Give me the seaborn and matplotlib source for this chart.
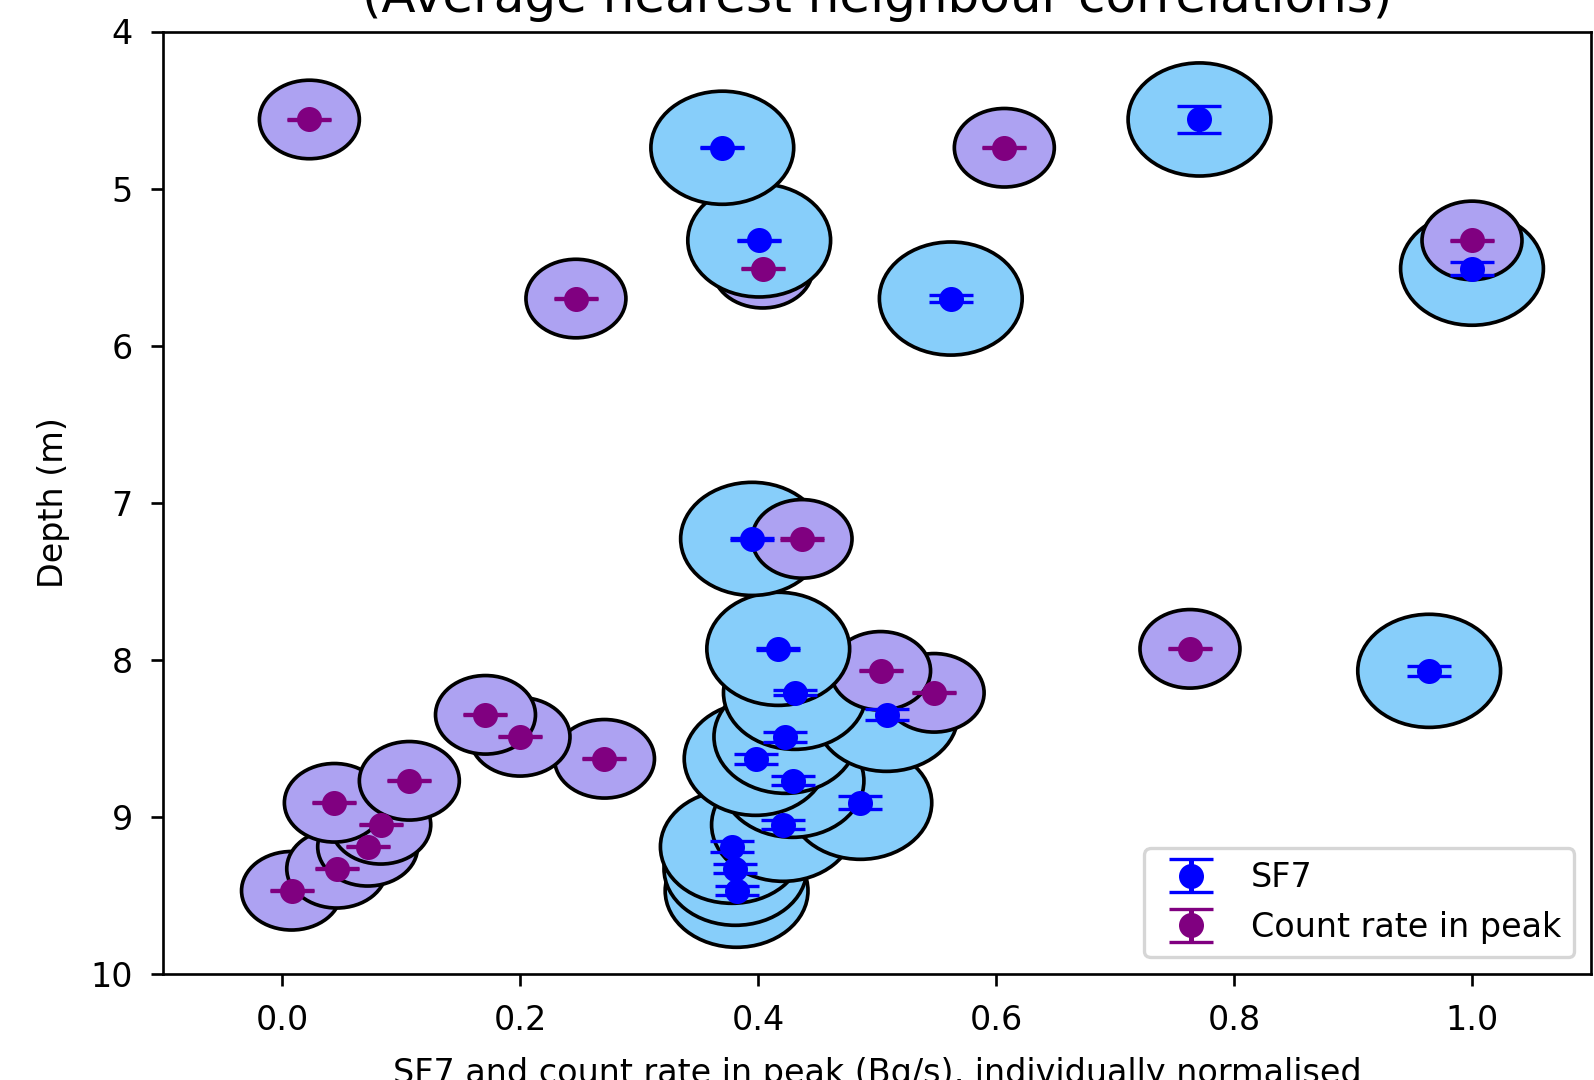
import matplotlib
matplotlib.use("Agg")
import numpy as np
import pandas as pd
import seaborn as sns
from matplotlib import pyplot as plt
from matplotlib.patches import Ellipse

# depth of each sampling point (m)
depth = [4.56, 4.74, 5.33, 5.51, 5.70, 7.23, 7.93, 8.07, 8.21,
         8.35, 8.49, 8.63, 8.77, 8.91, 9.05, 9.19, 9.33, 9.47]

# SF7, normalised, with its error on depth
sf7 = [0.771, 0.370, 0.401, 1.000, 0.562, 0.395, 0.417, 0.964, 0.431,
       0.508, 0.423, 0.398, 0.429, 0.486, 0.421, 0.378, 0.381, 0.382]
sf7_err = [0.085, 0.004, 0.004, 0.04, 0.02, 0.008, 0.008, 0.03, 0.015,
           0.035, 0.03, 0.03, 0.03, 0.04, 0.03, 0.035, 0.03, 0.03]

# count rate in peak, normalised
peak = [0.023, 0.607, 1.000, 0.404, 0.247, 0.437, 0.763, 0.503, 0.548,
        0.171, 0.200, 0.271, 0.107, 0.044, 0.083, 0.072, 0.046, 0.008]
peak_err = [0.004] * 18

fig = plt.figure(figsize=(1594 / 240, 1080 / 240), dpi=240)
ax = fig.add_axes([163 / 1594, 1 - 974 / 1080, 1428 / 1594, 942.5 / 1080])

# ellipses, deepest first so the shallower ones sit on top
for d, x1, x2 in sorted(zip(depth, sf7, peak), reverse=True):
    ax.add_patch(Ellipse((x1, d), 0.12, 0.72, facecolor='lightskyblue',
                         edgecolor='black', lw=1.1, zorder=1))
    ax.add_patch(Ellipse((x2, d), 0.084, 0.5, facecolor='#ada2f2',
                         edgecolor='black', lw=1.1, zorder=1))

ax.errorbar(sf7, depth, yerr=sf7_err, fmt='o', color='blue', ms=6.5,
            capsize=6.5, label='SF7', zorder=3)
ax.errorbar(peak, depth, yerr=peak_err, fmt='o', color='purple', ms=6.5,
            capsize=6.5, label='Count rate in peak', zorder=3)

df = pd.DataFrame({'value': sf7 + peak,
                   'depth': depth + depth,
                   'series': ['SF7'] * len(sf7) + ['Count rate in peak'] * len(peak)})
sns.scatterplot(data=df, x='value', y='depth', hue='series',
                palette={'SF7': 'blue', 'Count rate in peak': 'purple'},
                s=42, linewidth=0, legend=False, ax=ax, zorder=4)

ax.set_xlim(-0.1, 1.1)
ax.set_ylim(10, 4)
ax.set_xticks([0.0, 0.2, 0.4, 0.6, 0.8, 1.0])
ax.tick_params(pad=5.5)
ax.set_xlabel('SF7 and count rate in peak (Bq/s), individually normalised', labelpad=6)
ax.set_ylabel('Depth (m)', labelpad=6)
ax.set_title('(Average nearest neighbour correlations)', fontsize=15)
ax.legend(loc='lower right')

fig.savefig('out.png', dpi=240)
